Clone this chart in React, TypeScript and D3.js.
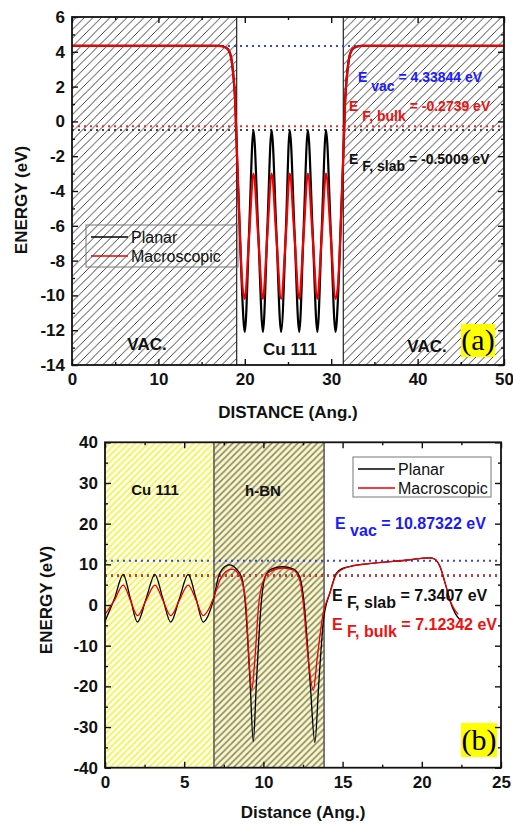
import React, { useRef, useEffect } from "react";
import * as d3 from "d3";

// ---- panel (a): Cu(111) slab between two vacuum regions ----
const topDist = [
  0, 17.0, 17.8, 18.3, 18.6, 18.9, 19.1, 19.4, 19.7,
  20.0, 20.5, 21.0, 21.55, 22.1, 22.6, 23.1, 23.65, 24.2, 24.75, 25.2,
  25.75, 26.3, 26.8, 27.3, 27.85, 28.4, 28.9, 29.4, 29.95, 30.5,
  30.8, 31.1, 31.4, 31.6, 31.9, 32.2, 32.7, 33.5, 50,
];
const topPlanar = [
  4.34, 4.34, 4.25, 3.9, 3.0, 1.0, -2.0, -6.0, -10.0,
  -12.1, -6.3, -0.5, -6.3, -12.1, -6.3, -0.5, -6.3, -12.1, -6.3, -0.5,
  -6.3, -12.1, -6.3, -0.5, -6.3, -12.1, -6.3, -0.5, -6.3, -12.1,
  -10.0, -6.0, -2.0, 1.0, 3.0, 3.9, 4.25, 4.34, 4.34,
];
const topMacro = [
  4.34, 4.34, 4.25, 3.9, 3.0, 1.0, -2.0, -6.0, -9.3,
  -10.2, -6.6, -3.0, -6.6, -10.2, -6.6, -3.0, -6.6, -10.2, -6.6, -3.0,
  -6.6, -10.2, -6.6, -3.0, -6.6, -10.2, -6.6, -3.0, -6.6, -10.2,
  -9.3, -6.0, -2.0, 1.0, 3.0, 3.9, 4.25, 4.34, 4.34,
];
const topSlabEdges = [19.06, 31.4];
const topEvac = 4.33844;
const topEbulk = -0.2739;
const topEslab = -0.5009;
const topXMajor = [0, 10, 20, 30, 40, 50];
const topXMinor = [5, 15, 25, 35, 45];
const topYMajor = [-14, -12, -10, -8, -6, -4, -2, 0, 2, 4, 6];
const topYMinor = [-13, -11, -9, -7, -5, -3, -1, 1, 3, 5];

// ---- panel (b): Cu(111) / h-BN / vacuum ----
const botPlanarX = [
  0, 0.6, 1.15, 1.6, 2.05, 2.6, 3.15, 3.65, 4.15, 4.7, 5.25, 5.75, 6.2, 6.6, 6.88,
  7.15, 7.4, 7.85, 8.3, 8.63, 8.84, 9.16, 9.36, 9.56, 9.88, 10.1, 10.5, 11.2, 11.9, 12.3,
  12.55, 12.95, 13.25, 13.5, 13.8, 14.2, 14.6, 15.0, 15.5, 17.0, 19.0, 20.5, 20.8, 21.15,
  21.5, 21.8, 22.1, 22.4,
];
const botPlanarY = [
  -4.0, 1.6, 7.5, 1.6, -4.2, 1.6, 7.5, 1.6, -4.2, 1.6, 7.5, 1.6, -4.2, -1.8, 1.8,
  6.8, 8.8, 9.85, 8.8, 6.8, 1.2, -19, -33.6, -19, 1.2, 6.8, 8.8, 9.4, 8.8, 6.8,
  1.2, -19, -33.8, -19, -3.5, 3.0, 7.8, 9.0, 9.5, 10.3, 11.0, 11.6, 11.3, 9.4,
  5.0, 0.8, -2.0, -3.6,
];
const botMacroX = [
  0, 0.6, 1.15, 1.6, 2.05, 2.6, 3.15, 3.65, 4.15, 4.7, 5.25, 5.75, 6.2, 6.6, 6.88,
  7.3, 7.6, 8.0, 8.4, 8.7, 8.9, 9.1, 9.26, 9.45, 9.7, 10.0, 10.4, 11.2, 11.9, 12.3,
  12.5, 12.85, 13.15, 13.4, 13.75, 14.2, 14.6, 15.0, 15.5, 17.0, 19.0, 20.5, 20.8, 21.15,
  21.5, 21.8, 22.05, 22.3,
];
const botMacroY = [
  -2.3, 1.2, 4.9, 1.2, -2.6, 1.2, 4.9, 1.2, -2.6, 1.2, 4.9, 1.2, -2.6, -0.6, 2.0,
  6.5, 8.1, 8.8, 7.8, 5.0, 0.0, -14, -20.9, -14, 0.0, 6.0, 8.2, 9.1, 8.6, 6.0,
  1.0, -14, -21.0, -13, -2.5, 3.0, 7.5, 8.8, 9.5, 10.3, 11.0, 11.6, 11.3, 9.5,
  5.0, 1.0, -1.0, -2.3,
];
const botLayers = [0, 6.88, 13.83]; // Cu | h-BN edges
const botEvac = 10.87322;
const botEslab = 7.3407;
const botEbulk = 7.12342;
const botXMajor = [0, 5, 10, 15, 20, 25];
const botXMinor = [2.5, 7.5, 12.5, 17.5, 22.5];
const botYMajor = [-40, -30, -20, -10, 0, 10, 20, 30, 40];
const botYMinor = [-35, -25, -15, -5, 5, 15, 25, 35];

const FONT = "'Liberation Sans', Arial, sans-serif";
const SERIF = "'Liberation Serif', 'Times New Roman', serif";

function hatch(defs, id, s, bg, fg, w) {
  const p = defs
    .append("pattern")
    .attr("id", id)
    .attr("patternUnits", "userSpaceOnUse")
    .attr("width", s)
    .attr("height", s);
  p.append("rect").attr("width", s).attr("height", s).attr("fill", bg);
  p.append("path")
    .attr("d", `M0,${s} L${s},0 M${-s / 2},${s / 2} L${s / 2},${-s / 2} M${s / 2},${s * 1.5} L${s * 1.5},${s / 2}`)
    .attr("stroke", fg)
    .attr("stroke-width", w);
}

// inward ticks on all four sides, labels left and bottom
function frame(g, x, y, xMaj, xMin, yMaj, yMin) {
  const [x0, x1] = x.range();
  const [y0, y1] = y.range();
  const fmt = (d) => String(d);
  const add = (axis, tr) =>
    g.append("g").attr("transform", tr).call(axis).call((s) => s.select(".domain").remove());

  add(d3.axisBottom(x).tickValues(xMaj).tickSize(-6).tickPadding(8).tickFormat(fmt), `translate(0,${y0})`);
  add(d3.axisBottom(x).tickValues(xMin).tickSize(-3).tickFormat(() => ""), `translate(0,${y0})`);
  add(d3.axisTop(x).tickValues(xMaj).tickSize(-6).tickFormat(() => ""), `translate(0,${y1})`);
  add(d3.axisTop(x).tickValues(xMin).tickSize(-3).tickFormat(() => ""), `translate(0,${y1})`);
  add(d3.axisLeft(y).tickValues(yMaj).tickSize(-6).tickPadding(7).tickFormat(fmt), `translate(${x0},0)`);
  add(d3.axisLeft(y).tickValues(yMin).tickSize(-3).tickFormat(() => ""), `translate(${x0},0)`);
  add(d3.axisRight(y).tickValues(yMaj).tickSize(-6).tickFormat(() => ""), `translate(${x1},0)`);
  add(d3.axisRight(y).tickValues(yMin).tickSize(-3).tickFormat(() => ""), `translate(${x1},0)`);

  g.selectAll(".tick line").attr("stroke", "#111").attr("stroke-width", 1.4);
  g.selectAll(".tick text")
    .attr("font-family", FONT)
    .attr("font-size", 17)
    .attr("font-weight", "bold")
    .attr("fill", "#111");

  g.append("rect")
    .attr("x", x0)
    .attr("y", y1)
    .attr("width", x1 - x0)
    .attr("height", y0 - y1)
    .attr("fill", "none")
    .attr("stroke", "#111")
    .attr("stroke-width", 1.8);
}

function levelLine(g, x, y, v, color) {
  const [x0, x1] = x.range();
  g.append("line")
    .attr("x1", x0)
    .attr("x2", x1)
    .attr("y1", y(v))
    .attr("y2", y(v))
    .attr("stroke", color)
    .attr("stroke-width", 2)
    .attr("stroke-dasharray", "2,4");
}

// "E" + subscript + " = value"
function energyLabel(g, xPos, yPos, sub, value, color, size, drop) {
  const t = g
    .append("text")
    .attr("x", xPos)
    .attr("y", yPos)
    .attr("font-family", FONT)
    .attr("font-size", size)
    .attr("font-weight", "bold")
    .attr("fill", color);
  t.append("tspan").text("E");
  t.append("tspan").attr("dy", drop).text(" " + sub);
  t.append("tspan").attr("dy", -drop).text(" = " + value + " eV");
}

function legend(g, lx, ly, w, h, fill) {
  g.append("rect")
    .attr("x", lx)
    .attr("y", ly)
    .attr("width", w)
    .attr("height", h)
    .attr("fill", fill)
    .attr("stroke", "#777")
    .attr("stroke-width", 1);
  const items = [
    ["Planar", "#000"],
    ["Macroscopic", "#e00"],
  ];
  items.forEach(([name, c], i) => {
    const cy = ly + 12 + i * 19;
    g.append("line")
      .attr("x1", lx + 5)
      .attr("x2", lx + 42)
      .attr("y1", cy)
      .attr("y2", cy)
      .attr("stroke", c)
      .attr("stroke-width", 1.6);
    g.append("text")
      .attr("x", lx + 45)
      .attr("y", cy + 6)
      .attr("font-family", FONT)
      .attr("font-size", 16)
      .attr("fill", "#111")
      .text(name);
  });
}

function badge(g, bx, by, w, h, label) {
  g.append("rect").attr("x", bx).attr("y", by).attr("width", w).attr("height", h).attr("fill", "#ffff00");
  g.append("text")
    .attr("x", bx + w / 2)
    .attr("y", by + h - 7)
    .attr("text-anchor", "middle")
    .attr("font-family", SERIF)
    .attr("font-size", 30)
    .attr("fill", "#000")
    .text(label);
}

function boldText(g, tx, ty, s, size, anchor = "middle") {
  g.append("text")
    .attr("x", tx)
    .attr("y", ty)
    .attr("text-anchor", anchor)
    .attr("font-family", FONT)
    .attr("font-size", size)
    .attr("font-weight", "bold")
    .attr("fill", "#111")
    .text(s);
}

function App() {
  const svgRef = useRef(null);

  useEffect(() => {
    const svg = d3.select(svgRef.current);
    svg.selectAll("*").remove();
    const defs = svg.append("defs");
    hatch(defs, "hatchBlack", 8.5, "#fff", "#2a2a2a", 0.9);
    hatch(defs, "hatchYellow", 6.5, "#fff", "#f4f43a", 1.7);
    hatch(defs, "hatchOlive", 6.5, "#f8f6d6", "#8e8c50", 1.6);

    // ================= panel (a) =================
    const xa = d3.scaleLinear().domain([0, 50]).range([72, 504]);
    const ya = d3.scaleLinear().domain([-14, 6]).range([365, 17]);
    const ga = svg.append("g");

    ga.append("rect")
      .attr("x", xa(0))
      .attr("y", ya(6))
      .attr("width", xa(topSlabEdges[0]) - xa(0))
      .attr("height", ya(-14) - ya(6))
      .attr("fill", "url(#hatchBlack)");
    ga.append("rect")
      .attr("x", xa(topSlabEdges[1]))
      .attr("y", ya(6))
      .attr("width", xa(50) - xa(topSlabEdges[1]))
      .attr("height", ya(-14) - ya(6))
      .attr("fill", "url(#hatchBlack)");
    topSlabEdges.forEach((e) =>
      ga.append("line")
        .attr("x1", xa(e))
        .attr("x2", xa(e))
        .attr("y1", ya(6))
        .attr("y2", ya(-14))
        .attr("stroke", "#222")
        .attr("stroke-width", 1.2)
    );

    levelLine(ga, xa, ya, topEvac, "#3344ee");
    levelLine(ga, xa, ya, topEbulk, "#ee2a2a");
    levelLine(ga, xa, ya, topEslab, "#444");

    const lineA = d3
      .line()
      .x((d) => xa(d[0]))
      .y((d) => ya(d[1]))
      .curve(d3.curveMonotoneX);
    ga.append("path")
      .attr("d", lineA(topDist.map((d, i) => [d, topPlanar[i]])))
      .attr("fill", "none")
      .attr("stroke", "#000")
      .attr("stroke-width", 2.2);
    ga.append("path")
      .attr("d", lineA(topDist.map((d, i) => [d, topMacro[i]])))
      .attr("fill", "none")
      .attr("stroke", "#e00")
      .attr("stroke-width", 2.2);

    energyLabel(ga, 358, 82, "vac", "4.33844", "#1a1aff", 14, 9);
    energyLabel(ga, 349, 111, "F, bulk", "-0.2739", "#ee1111", 14, 10);
    energyLabel(ga, 349, 164, "F, slab", "-0.5009", "#111", 14, 7);

    legend(ga, 86, 225, 152, 42, "none");

    boldText(ga, 147, 350, "VAC.", 17);
    boldText(ga, 290, 355, "Cu 111", 17);
    boldText(ga, 427, 352, "VAC.", 17);
    badge(ga, 461, 324, 34, 33, "(a)");

    frame(ga, xa, ya, topXMajor, topXMinor, topYMajor, topYMinor);

    boldText(ga, 288, 418, "DISTANCE (Ang.)", 17);
    ga.append("text")
      .attr("transform", "translate(27,200) rotate(-90)")
      .attr("text-anchor", "middle")
      .attr("font-family", FONT)
      .attr("font-size", 17)
      .attr("font-weight", "bold")
      .attr("fill", "#111")
      .text("ENERGY (eV)");

    // ================= panel (b) =================
    const xb = d3.scaleLinear().domain([0, 25]).range([105, 501]);
    const yb = d3.scaleLinear().domain([-40, 40]).range([767.7, 442.3]);
    const gb = svg.append("g");

    gb.append("rect")
      .attr("x", xb(botLayers[0]))
      .attr("y", yb(40))
      .attr("width", xb(botLayers[1]) - xb(botLayers[0]))
      .attr("height", yb(-40) - yb(40))
      .attr("fill", "url(#hatchYellow)");
    gb.append("rect")
      .attr("x", xb(botLayers[1]))
      .attr("y", yb(40))
      .attr("width", xb(botLayers[2]) - xb(botLayers[1]))
      .attr("height", yb(-40) - yb(40))
      .attr("fill", "url(#hatchOlive)");
    [botLayers[1], botLayers[2]].forEach((e) =>
      gb.append("line")
        .attr("x1", xb(e))
        .attr("x2", xb(e))
        .attr("y1", yb(40))
        .attr("y2", yb(-40))
        .attr("stroke", "#555")
        .attr("stroke-width", 1.5)
    );

    levelLine(gb, xb, yb, botEvac, "#3344ee");
    levelLine(gb, xb, yb, botEslab, "#444");
    levelLine(gb, xb, yb, botEbulk, "#ee2a2a");

    const lineB = d3
      .line()
      .x((d) => xb(d[0]))
      .y((d) => yb(d[1]))
      .curve(d3.curveMonotoneX);
    gb.append("path")
      .attr("d", lineB(botPlanarX.map((d, i) => [d, botPlanarY[i]])))
      .attr("fill", "none")
      .attr("stroke", "#000")
      .attr("stroke-width", 1.3);
    gb.append("path")
      .attr("d", lineB(botMacroX.map((d, i) => [d, botMacroY[i]])))
      .attr("fill", "none")
      .attr("stroke", "#e00")
      .attr("stroke-width", 1.3);

    boldText(gb, 155, 495, "Cu 111", 15);
    boldText(gb, 245, 496, "h-BN", 15, "start");

    legend(gb, 353, 457, 138, 40, "#fff");

    energyLabel(gb, 335, 529, "vac", "10.87322", "#1a1aff", 16, 7);
    energyLabel(gb, 332, 601, "F, slab", "7.3407", "#111", 16, 7);
    energyLabel(gb, 332, 630, "F, bulk", "7.12342", "#ee1111", 16, 7);

    badge(gb, 461, 723, 36, 34, "(b)");

    frame(gb, xb, yb, botXMajor, botXMinor, botYMajor, botYMinor);

    boldText(gb, 303, 818, "Distance (Ang.)", 17);
    gb.append("text")
      .attr("transform", "translate(52,600) rotate(-90)")
      .attr("text-anchor", "middle")
      .attr("font-family", FONT)
      .attr("font-size", 17)
      .attr("font-weight", "bold")
      .attr("fill", "#111")
      .text("ENERGY (eV)");
  }, []);

  return (
    <svg
      ref={svgRef}
      width={513}
      height={824}
      style={{ position: "absolute", left: 0, top: 0, background: "#fff" }}
    />
  );
}

export default App;
